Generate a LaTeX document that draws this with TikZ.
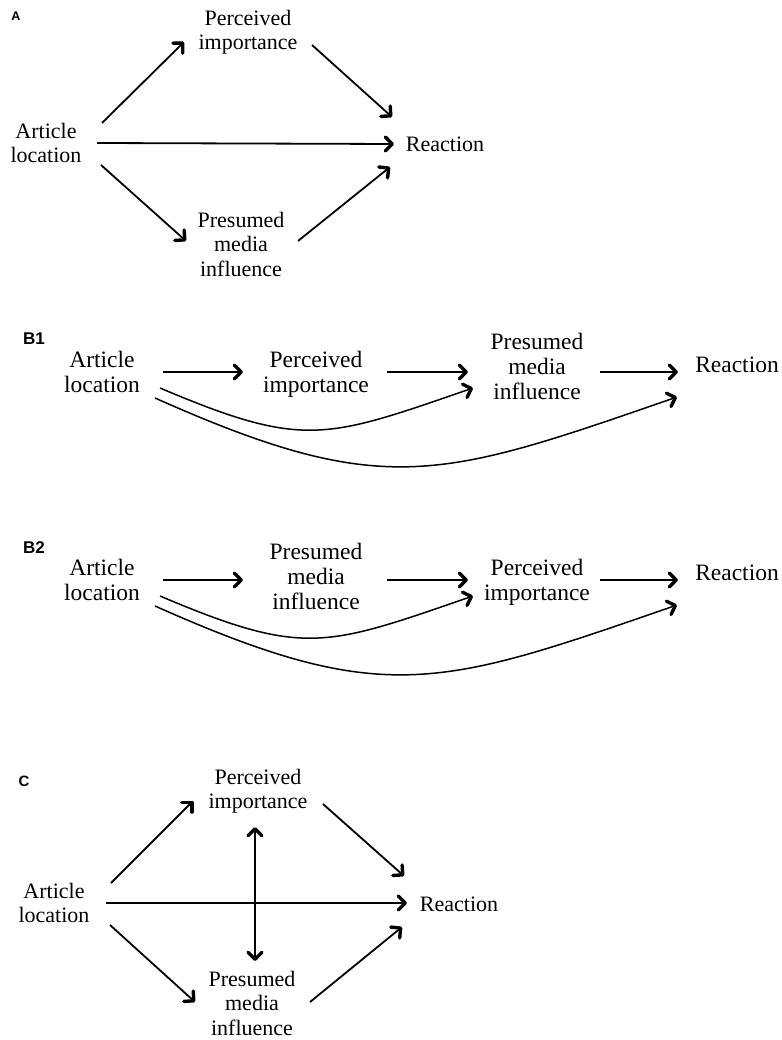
\documentclass[tikz,border=0pt]{standalone}
\usepackage{fontspec}
\setmainfont{Liberation Serif}
\setsansfont{Liberation Sans}
\usetikzlibrary{arrows.meta}

\tikzset{
  var/.style={align=center,inner sep=0pt,font=\fontsize{22}{24.5}\selectfont},
  varB/.style={var,font=\fontsize{23.5}{25}\selectfont},
  panel/.style={inner sep=0pt,font=\sffamily\bfseries\fontsize{#1}{#1}\selectfont},
  barb/.tip={Straight Barb[length=7pt,width=14pt,line width=3.4pt,round]},
  arr/.style={line width=1.8pt,-barb},
  arrboth/.style={line width=1.8pt,barb-barb},
  curv/.style={arr,line width=1.5pt},
}

\begin{document}
\begin{tikzpicture}[x=1pt,y=-1pt]
\useasboundingbox (0,0) rectangle (781,1040);

% A
\node[panel=12.5] (labA) at (16,16.5) {A};
\node[var] (alA) at (46,143) {Article\\location};
\node[var] (piA) at (248,32) {Perceived\\importance};
\node[var] (reA) at (445,144) {Reaction};
\node[var] (pmA) at (241,244) {Presumed\\media\\influence};
\draw[arr] ([shift={(56,-20)}]alA.center) -- ([shift={(-64,10)}]piA.center);
\draw[arr] ([shift={(64,13)}]piA.center) -- ([shift={(-53,-27)}]reA.center);
\draw[arr] ([shift={(51,0)}]alA.center) -- ([shift={(-51,0)}]reA.center);
\draw[arr] ([shift={(55,22)}]alA.center) -- ([shift={(-55,-3)}]pmA.center);
\draw[arr] ([shift={(57,-3)}]pmA.center) -- ([shift={(-55,23)}]reA.center);

% B1
\node[panel=17] (labB1) at (34,339) {B1};
\node[varB] (alB1) at (102,372) {Article\\location};
\node[varB] (piB1) at (316,374) {Perceived\\importance};
\node[varB] (pmB1) at (537,366) {Presumed\\media\\influence};
\node[varB] (reB1) at (737,365) {Reaction};
\draw[arr] ([shift={(61,0)}]alB1.center) -- ([shift={(-73,-2)}]piB1.center);
\draw[arr] ([shift={(71,-2)}]piB1.center) -- ([shift={(-69,6)}]pmB1.center);
\draw[arr] ([shift={(63,6)}]pmB1.center) -- ([shift={(-59,7)}]reB1.center);
\draw[curv] ([shift={(58,16)}]alB1.center) .. controls +(144,61) and +(-148,51) .. ([shift={(-64,22)}]pmB1.center);
\draw[curv] ([shift={(53,26)}]alB1.center) .. controls +(229,102) and +(-237,82) .. ([shift={(-60,32)}]reB1.center);

% B2
\node[panel=17] (labB2) at (34,548) {B2};
\node[varB] (alB2) at (102,580) {Article\\location};
\node[varB] (pmB2) at (316,576) {Presumed\\media\\influence};
\node[varB] (piB2) at (537,582) {Perceived\\importance};
\node[varB] (reB2) at (737,573) {Reaction};
\draw[arr] ([shift={(61,0)}]alB2.center) -- ([shift={(-73,4)}]pmB2.center);
\draw[arr] ([shift={(71,4)}]pmB2.center) -- ([shift={(-69,-2)}]piB2.center);
\draw[arr] ([shift={(63,-2)}]piB2.center) -- ([shift={(-59,7)}]reB2.center);
\draw[curv] ([shift={(58,16)}]alB2.center) .. controls +(144,61) and +(-148,51) .. ([shift={(-64,14)}]piB2.center);
\draw[curv] ([shift={(53,26)}]alB2.center) .. controls +(229,102) and +(-237,82) .. ([shift={(-60,32)}]reB2.center);

% C
\node[panel=15] (labC) at (24,781.5) {C};
\node[var] (alC) at (54,903) {Article\\location};
\node[var] (piC) at (258,791) {Perceived\\importance};
\node[var] (reC) at (459,904) {Reaction};
\node[var] (pmC) at (252,1003) {Presumed\\media\\influence};
\draw[arr] ([shift={(57,-20)}]alC.center) -- ([shift={(-65,10)}]piC.center);
\draw[arr] ([shift={(65,13)}]piC.center) -- ([shift={(-55,-28)}]reC.center);
\draw[arr] ([shift={(52,0)}]alC.center) -- ([shift={(-52,-1)}]reC.center);
\draw[arr] ([shift={(56,22)}]alC.center) -- ([shift={(-57,-1)}]pmC.center);
\draw[arr] ([shift={(58,-1)}]pmC.center) -- ([shift={(-57,23)}]reC.center);
\draw[arrboth] ([shift={(-3,36)}]piC.center) -- ([shift={(3,-42)}]pmC.center);

\end{tikzpicture}
\end{document}
